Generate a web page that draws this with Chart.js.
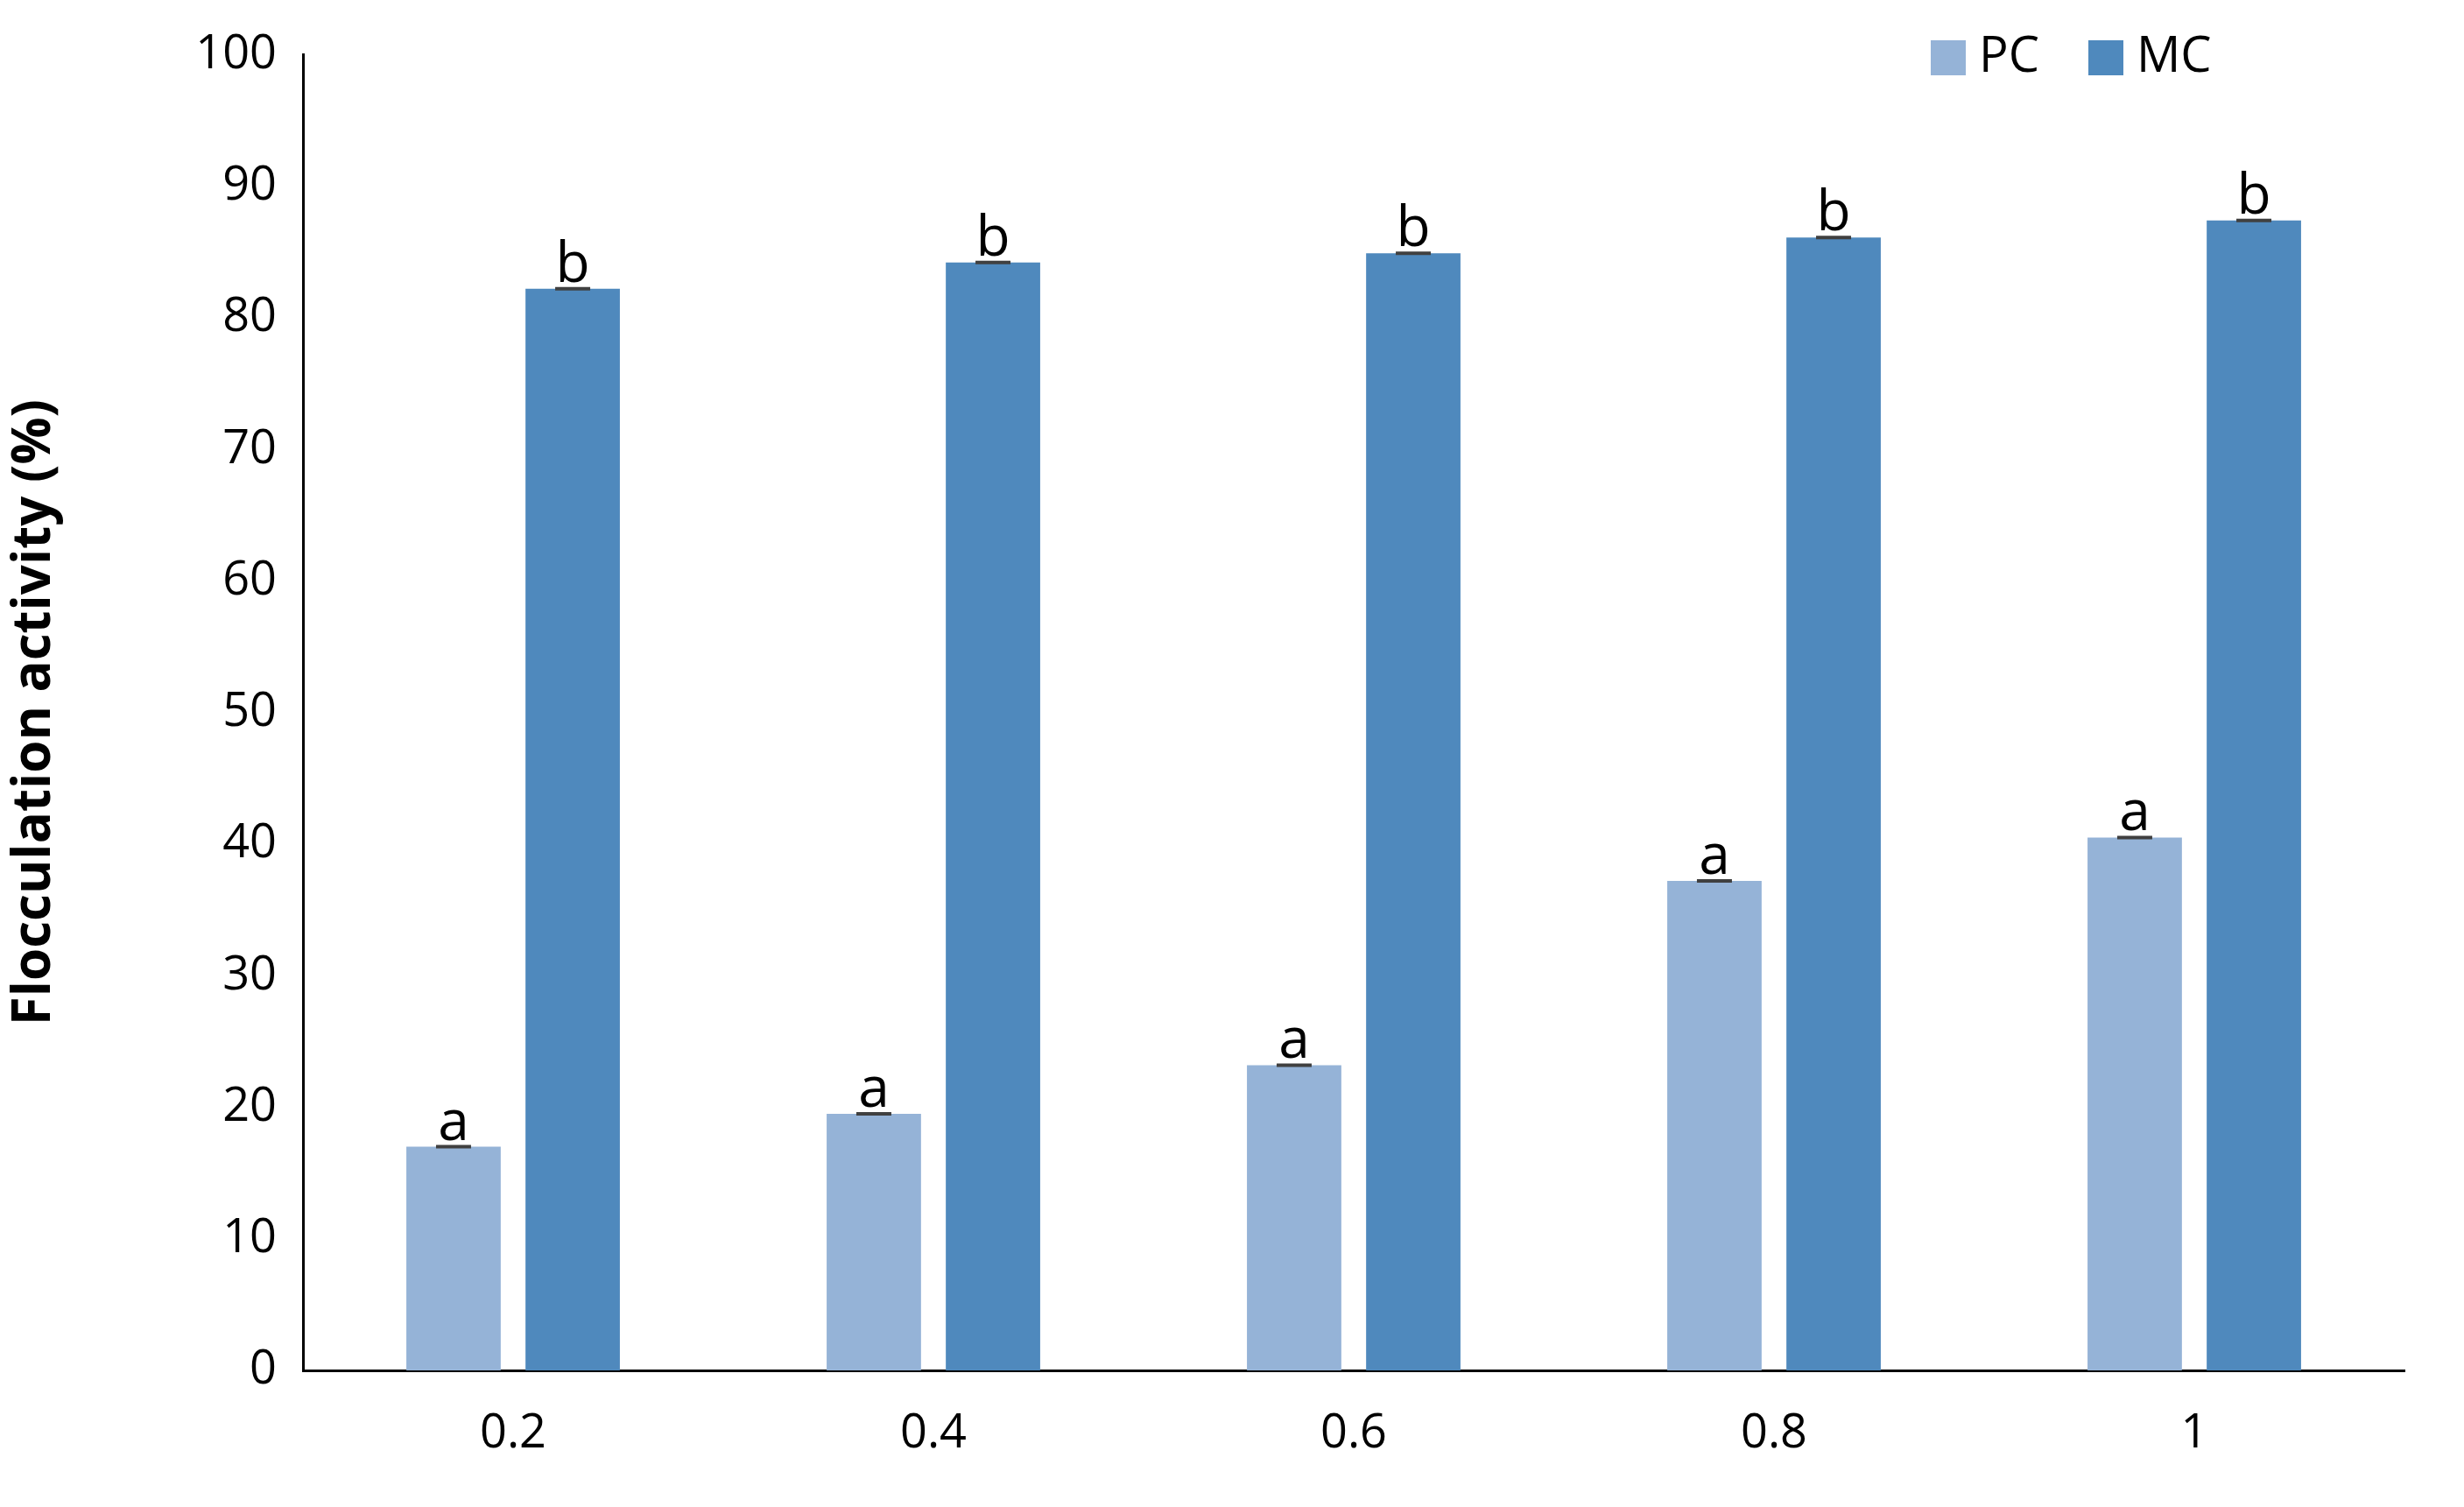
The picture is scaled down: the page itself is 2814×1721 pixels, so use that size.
<!DOCTYPE html>
<html><head><meta charset="utf-8">
<script src="https://cdn.jsdelivr.net/npm/chart.js@4"></script>
<style>html,body{margin:0;padding:0;background:#fff}#w{width:2814px;height:1721px}</style>
</head><body><div id="w"><canvas id="c"></canvas></div>
<script>
const categories = ['0.2','0.4','0.6','0.8','1'];
const pcValues = [17.0, 19.5, 23.2, 37.2, 40.5];
const mcValues = [82.2, 84.2, 84.9, 86.1, 87.4];
const pcLetters = ['a','a','a','a','a'];
const mcLetters = ['b','b','b','b','b'];
const yTicks = [0,10,20,30,40,50,60,70,80,90,100];
const FONT = '"Open Sans", "Liberation Sans", sans-serif';

const annot = {
  id:'annot',
  afterDatasetsDraw(chart){
    const ctx = chart.ctx;
    const letters = [pcLetters, mcLetters];
    chart.data.datasets.forEach((ds,di)=>{
      chart.getDatasetMeta(di).data.forEach((bar,i)=>{
        const y = bar.y;
        ctx.save();
        ctx.strokeStyle='#404040'; ctx.lineWidth=4;
        ctx.beginPath(); ctx.moveTo(bar.x-20,y); ctx.lineTo(bar.x+20,y); ctx.stroke();
        ctx.fillStyle='#000'; ctx.font='64px '+FONT;
        ctx.textAlign='center'; ctx.textBaseline='alphabetic';
        ctx.fillText(letters[di][i], bar.x, y-8);
        ctx.restore();
      });
    });
    // legend
    ctx.save();
    const items=[['PC','#95B3D7',2205],['MC','#4F89BD',2385]];
    ctx.font='56px '+FONT; ctx.textBaseline='middle'; ctx.fillStyle='#000';
    items.forEach(([t,c,x])=>{
      ctx.fillStyle=c; ctx.fillRect(x,46,40,40);
      ctx.fillStyle='#000'; ctx.fillText(t,x+55,66);
    });
    ctx.restore();
  }
};

new Chart(document.getElementById('c'),{
  type:'bar',
  data:{labels:categories,datasets:[
    {label:'PC',data:pcValues,backgroundColor:'#95B3D7',categoryPercentage:0.567,barPercentage:0.792},
    {label:'MC',data:mcValues,backgroundColor:'#4F89BD',categoryPercentage:0.567,barPercentage:0.792}
  ]},
  options:{
    responsive:true,maintainAspectRatio:false,animation:false,
    layout:{padding:{left:0,right:68,top:45,bottom:0}},
    plugins:{legend:{display:false},tooltip:{enabled:false}},
    scales:{
      x:{grid:{display:false,drawTicks:false},border:{color:'#000',width:3},
         ticks:{color:'#000',font:{size:54,family:FONT},padding:40},
         afterFit(s){s.height=156;}},
      y:{min:0,max:100,grid:{display:false,drawTicks:false},border:{color:'#000',width:3},
         afterBuildTicks(s){s.ticks=yTicks.map(v=>({value:v}));},
         ticks:{color:'#000',font:{size:54,family:FONT},padding:30},
         title:{display:true,text:'Flocculation activity (%)',color:'#000',font:{size:60,weight:'bold',family:FONT},padding:{bottom:10}},
         afterFit(s){s.width=346;}}
    }
  },
  plugins:[annot]
});
</script></body></html>
